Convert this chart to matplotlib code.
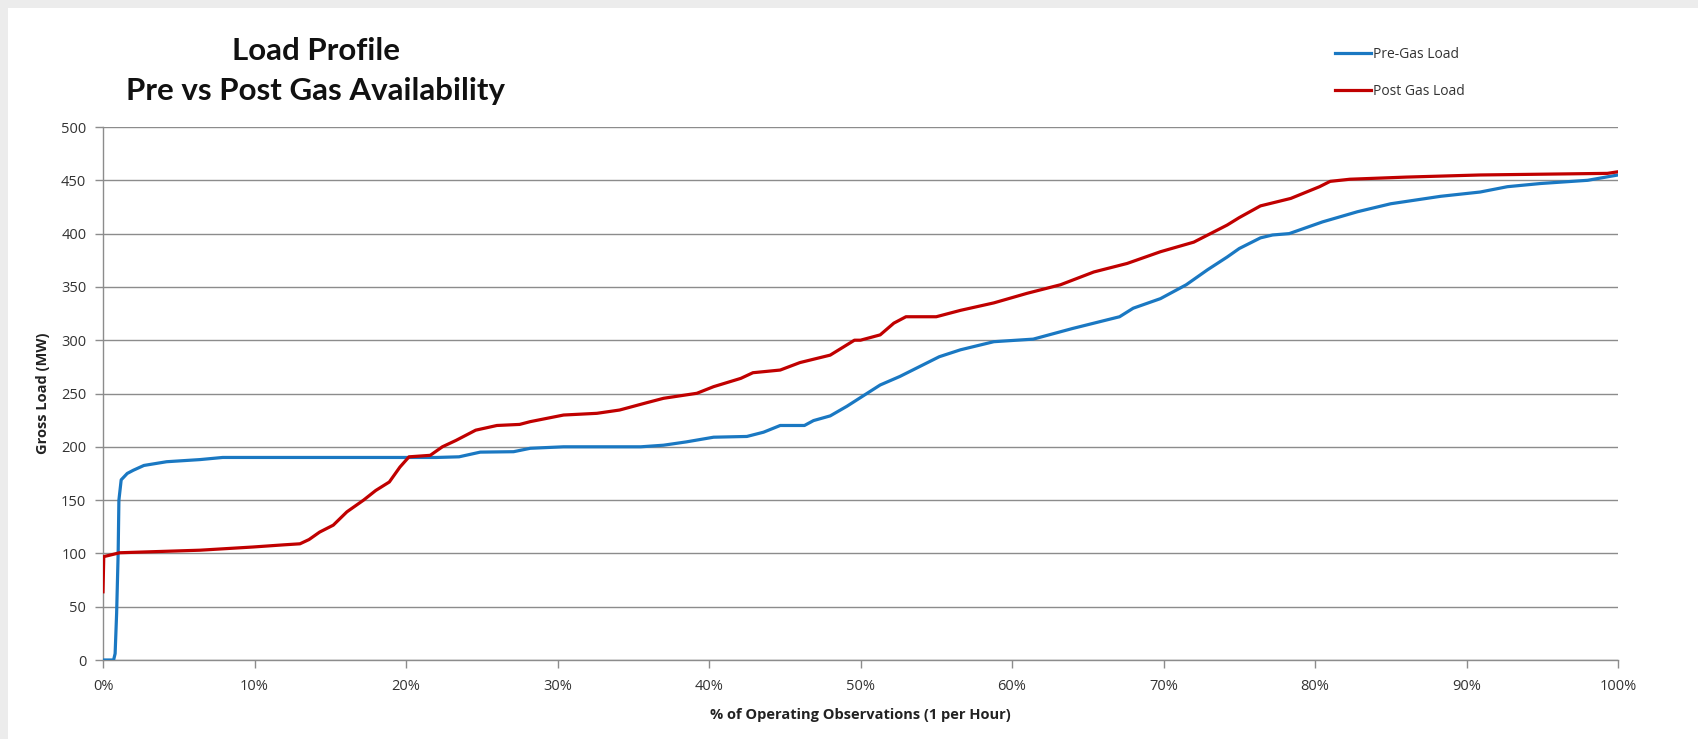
import matplotlib
matplotlib.use("Agg")
import matplotlib.pyplot as plt
from matplotlib.patches import Rectangle
from matplotlib.ticker import MultipleLocator, FuncFormatter

# ---- data ----
pre_x = [0, 0.7, 0.8, 0.9, 1.0, 1.05, 1.2, 1.6, 2.0, 2.7, 4.2, 6.4, 7.9, 17.4, 22.0, 23.5,
         24.9, 27.1, 28.2, 30.4, 35.5, 37.0, 38.5, 40.3, 42.5, 43.6, 44.7, 46.3, 46.9, 48.0,
         49.1, 50.2, 51.3, 52.6, 55.2, 56.6, 58.8, 61.4, 64.0, 67.1, 68.0, 69.8, 71.5, 72.9,
         74.2, 75.0, 76.4, 77.2, 78.3, 80.5, 82.8, 85.0, 88.3, 90.9, 92.7, 94.9, 98.0, 100.0]
pre_y = [0, 0, 6, 44, 100, 150, 169, 175, 178, 182.5, 186, 188, 190, 190, 190, 190.6,
         195, 195.4, 198.6, 200, 200, 201.5, 204.6, 209, 209.7, 213.7, 220, 220, 224.6, 229,
         238, 248, 258, 266, 284.5, 291, 298.6, 301, 311, 322, 330, 339, 352, 366,
         378, 386, 396, 398.7, 400, 411, 420.5, 428, 435, 439, 444, 447, 450, 455]

post_x = [0, 0.05, 0.35, 1.1, 6.4, 9.9, 11.9, 13.0, 13.6, 14.3, 15.2, 16.1, 17.2, 18.0, 18.9,
          19.6, 20.2, 21.6, 22.4, 23.3, 24.6, 26.0, 27.5, 28.2, 30.4, 32.6, 34.1, 35.9, 37.0,
          39.2, 40.3, 42.1, 42.9, 44.7, 46.0, 48.0, 49.6, 50.0, 51.3, 52.2, 53.0, 55.0, 56.6,
          58.8, 61.0, 63.2, 65.4, 67.6, 69.8, 72.0, 74.2, 75.0, 76.4, 78.4, 80.3, 81.0, 82.3,
          86.0, 90.9, 99.3, 100.0]
post_y = [64, 97, 98, 100.6, 103, 106, 108, 109, 113, 120, 126.5, 139, 150, 159, 167,
          181, 190.6, 192, 200, 206, 215.6, 220, 221, 223.6, 229.8, 231.4, 234.5, 241.4, 245.5,
          250.2, 256.4, 264.2, 269.5, 272, 279, 286, 300, 300, 305, 316, 322, 322, 328,
          335, 344, 352, 364, 372, 383, 392, 408, 415, 426, 433, 444, 449, 451,
          453, 455, 456.5, 458]

series_labels = ["Pre-Gas Load", "Post Gas Load"]
title_text = "Load Profile\nPre vs Post Gas Availability"
x_label = "% of Operating Observations (1 per Hour)"
y_label = "Gross Load (MW)"

W, H = 1698, 739
fig = plt.figure(figsize=(W / 100, H / 100), dpi=100)
fig.patch.set_facecolor("white")
# light gray frame bands (top and left) like the source screenshot
fig.patches.append(Rectangle((0, 1 - 8 / H), 1, 8 / H, transform=fig.transFigure,
                             facecolor="#ececec", edgecolor="none"))
fig.patches.append(Rectangle((0, 0), 8 / W, 1, transform=fig.transFigure,
                             facecolor="#ececec", edgecolor="none"))

ax = fig.add_axes([103 / W, 1 - 660 / H, (1618 - 103) / W, (660 - 127) / H])
ax.set_facecolor("white")

ax.plot(pre_x, pre_y, color="#1a78c2", lw=2.3, label=series_labels[0], zorder=3)
ax.plot(post_x, post_y, color="#c00000", lw=2.3, label=series_labels[1], zorder=3)

ax.set_xlim(0, 100)
ax.set_ylim(0, 500)
ax.xaxis.set_major_locator(MultipleLocator(10))
ax.yaxis.set_major_locator(MultipleLocator(50))
ax.xaxis.set_major_formatter(FuncFormatter(lambda v, p: f"{int(round(v))}%"))

ax.grid(axis="y", color="#8c8c8c", lw=1.0)
ax.set_axisbelow(True)
for s in ["top", "right"]:
    ax.spines[s].set_visible(False)
for s in ["left", "bottom"]:
    ax.spines[s].set_color("#8c8c8c")
    ax.spines[s].set_linewidth(1.0)
ax.tick_params(axis="both", colors="#8c8c8c", labelcolor="#333333", labelsize=10.5,
               length=6, width=1.0, direction="out")
ax.tick_params(axis="x", pad=8)
ax.tick_params(axis="y", pad=6)
for t in ax.get_xticklabels() + ax.get_yticklabels():
    t.set_fontfamily("Open Sans")

ax.set_xlabel(x_label, fontsize=10.5, fontweight="bold", family="Open Sans",
              color="#222222", labelpad=10)
ax.set_ylabel(y_label, fontsize=10.5, fontweight="bold", family="Open Sans",
              color="#222222", labelpad=8)

fig.text(316 / W, 1 - 71 / H, title_text, ha="center", va="center",
         fontsize=22.5, fontweight="bold", family="Lato", color="#111111",
         linespacing=1.5)

leg = fig.legend(loc="upper left", bbox_to_anchor=(1322 / W, 1 - 34 / H),
                 frameon=False, handlelength=2.6, handletextpad=0.2,
                 labelspacing=1.6, prop={"family": "Open Sans", "size": 10})
for t in leg.get_texts():
    t.set_color("#333333")

fig.savefig("out.png", dpi=100)
